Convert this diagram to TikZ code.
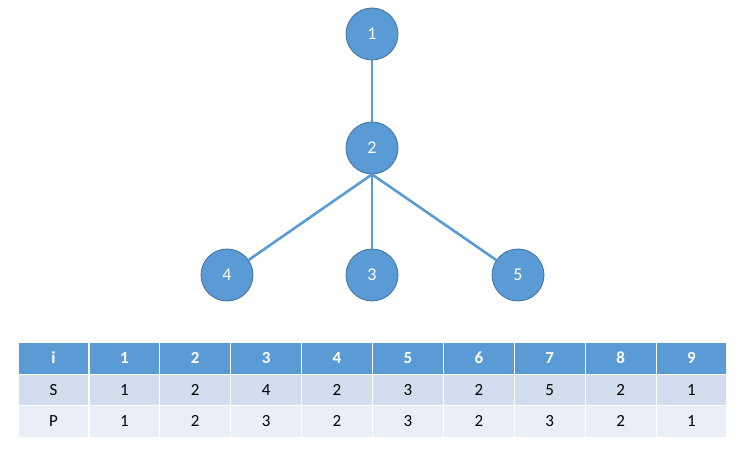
\documentclass[tikz,border=0pt]{standalone}
\usepackage{fontspec}
\setmainfont{Carlito}[Numbers=Lining]
\usetikzlibrary{positioning}
\definecolor{TreeBlue}{HTML}{5B9BD5}
\definecolor{TreeRim}{HTML}{41719C}
\definecolor{RowDark}{HTML}{D2DEEF}
\definecolor{RowLight}{HTML}{EAEFF7}

\begin{document}
\begin{tikzpicture}[
    x=1pt, y=-1pt,
    every node/.style={font=\fontsize{17}{20}\selectfont},
    vertex/.style={
        circle,
        draw=TreeRim,
        fill=TreeBlue,
        line width=0.8pt,
        minimum size=52pt,
        inner sep=0pt,
        text height=11pt,
        text depth=0pt,
        text=white,
        font=\fontsize{18}{20}\selectfont
    },
    edge/.style={
        draw=TreeBlue,
        line width=2.6pt
    },
    cell/.style={
        rectangle,
        draw=white,
        line width=1.2pt,
        minimum width=70.9pt,
        minimum height=31.5pt,
        inner sep=0pt,
        text height=11pt,
        text depth=0pt
    },
    head/.style={
        cell,
        fill=TreeBlue,
        text=white,
        font=\fontsize{17}{20}\selectfont\bfseries
    },
    srow/.style={cell, fill=RowDark},
    prow/.style={cell, fill=RowLight}
]

\useasboundingbox (0,0) rectangle (740,449);

% tree
\node[vertex] (n1) at (372,34) {1};
\node[vertex] (n2) at (372,148) {2};
\node[vertex] (n4) at (227,275) {4};
\node[vertex] (n3) at (372,275) {3};
\node[vertex] (n5) at (518,275) {5};

\draw[edge] (n1) -- (n2);
\draw[edge] (n2.south) -- (n4);
\draw[edge] (n2.south) -- (n3);
\draw[edge] (n2.south) -- (n5);

% table
\foreach \v [count=\k from 0] in {i,1,2,3,4,5,6,7,8,9}
    \node[head] (h\k) at ({53.45+70.9*\k},358.5) {\v};
\foreach \v [count=\k from 0] in {S,1,2,4,2,3,2,5,2,1}
    \node[srow] (s\k) at ({53.45+70.9*\k},390) {\v};
\foreach \v [count=\k from 0] in {P,1,2,3,2,3,2,3,2,1}
    \node[prow] (p\k) at ({53.45+70.9*\k},421.5) {\v};

\end{tikzpicture}
\end{document}
